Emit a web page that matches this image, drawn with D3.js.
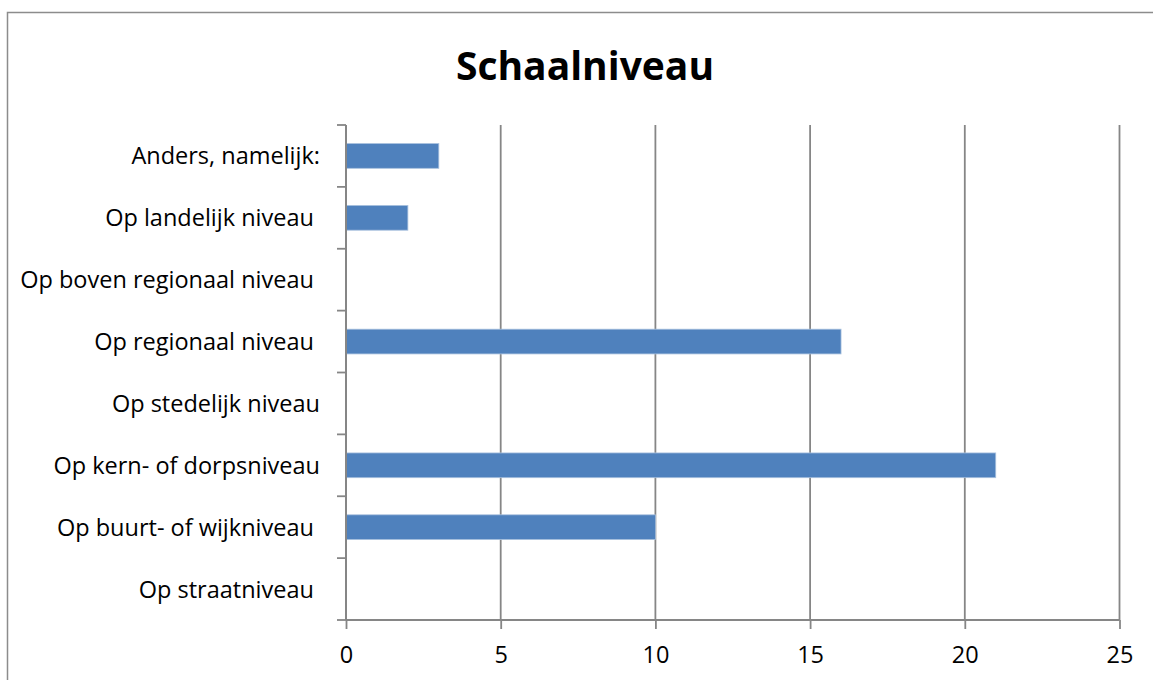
<!DOCTYPE html>
<html>
<head>
<meta charset="utf-8">
<script src="https://cdn.jsdelivr.net/npm/d3@7"></script>
<style>
  html, body { margin: 0; padding: 0; background: #fff; overflow: hidden; }
  text { white-space: pre; }
</style>
</head>
<body>
<svg id="chart" width="1153" height="680"></svg>
<script>
const title = "Schaalniveau";
const categories = [
  "Anders, namelijk:",
  "Op landelijk niveau ",
  "Op boven regionaal niveau ",
  "Op regionaal niveau ",
  "Op stedelijk niveau",
  "Op kern- of dorpsniveau",
  "Op buurt- of wijkniveau ",
  "Op straatniveau "
];
const values = [3, 2, 0, 16, 0, 21, 10, 0];
const xTicks = [0, 5, 10, 15, 20, 25];

(function () {
const svg = d3.select("#chart");
const font = "'Open Sans', 'Liberation Sans', sans-serif";

// outer chart border (cropped at right and bottom)
svg.append("rect")
  .attr("x", 7.5).attr("y", 12.5)
  .attr("width", 1170).attr("height", 700)
  .attr("fill", "none").attr("stroke", "#8c8c8c").attr("stroke-width", 1.5);

const pL = 346, pR = 1119.5, pT = 125, pB = 620;

const x = d3.scaleLinear().domain([0, 25]).range([pL, pR]);
const y = d3.scaleBand().domain(categories).range([pT, pB])
  .paddingInner(0.6).paddingOuter(0.3);

// title
svg.append("text")
  .attr("x", 585).attr("y", 80)
  .attr("text-anchor", "middle")
  .attr("font-family", font).attr("font-weight", "bold")
  .attr("font-size", 39).attr("fill", "#000")
  .text(title);

// vertical gridlines
svg.append("g").selectAll("line").data(xTicks.filter(d => d > 0)).join("line")
  .attr("x1", d => x(d)).attr("x2", d => x(d))
  .attr("y1", pT).attr("y2", pB)
  .attr("stroke", "#868686").attr("stroke-width", 1.8);

// bars
svg.append("g").selectAll("rect").data(categories).join("rect")
  .attr("x", x(0))
  .attr("y", (d) => y(d))
  .attr("width", (d, i) => x(values[i]) - x(0))
  .attr("height", y.bandwidth())
  .attr("fill", "#4f81bd")
  .attr("stroke", "#a9c1de").attr("stroke-width", 0.8)
  .attr("display", (d, i) => values[i] > 0 ? null : "none");

// x axis
const xAxis = d3.axisBottom(x).tickValues(xTicks).tickSize(9).tickPadding(17)
  .tickFormat(d3.format("d"));
const gx = svg.append("g").attr("transform", `translate(0,${pB})`).call(xAxis);
gx.select(".domain").attr("stroke", "#868686").attr("stroke-width", 2)
  .attr("d", `M${pL},0H${pR}`);
gx.selectAll(".tick line").attr("stroke", "#868686").attr("stroke-width", 1.8);
gx.selectAll(".tick text").attr("font-family", font).attr("font-size", 23.5)
  .attr("fill", "#000").attr("dy", "0.71em");

// y axis: line + category boundary ticks
const n = categories.length;
const gy = svg.append("g");
gy.append("line")
  .attr("x1", pL).attr("x2", pL).attr("y1", pT).attr("y2", pB)
  .attr("stroke", "#868686").attr("stroke-width", 2);
gy.selectAll("line.tk").data(d3.range(n + 1)).join("line")
  .attr("class", "tk")
  .attr("x1", pL - 9).attr("x2", pL)
  .attr("y1", i => pT + i * (pB - pT) / n)
  .attr("y2", i => pT + i * (pB - pT) / n)
  .attr("stroke", "#868686").attr("stroke-width", 1.8);

// category labels
gy.selectAll("text").data(categories).join("text")
  .attr("x", 320)
  .attr("y", d => y(d) + y.bandwidth() / 2)
  .attr("dy", "0.36em")
  .attr("text-anchor", "end")
  .attr("font-family", font).attr("font-size", 23.5).attr("fill", "#000")
  .text(d => d);
})();
</script>
</body>
</html>
